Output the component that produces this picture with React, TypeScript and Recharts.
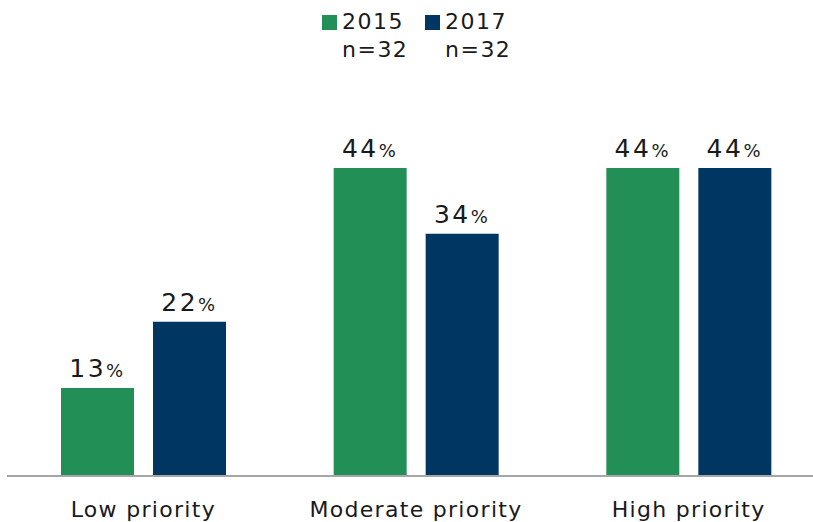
import { BarChart, Bar, XAxis, YAxis, LabelList } from "recharts";

const categories = ["Low priority", "Moderate priority", "High priority"];
// shares of n=32, labels show the rounded percent
const values2015 = [12.5, 43.75, 43.75];
const values2017 = [21.9, 34.4, 43.75];
const seriesNames = ["2015", "2017"];
const sampleSizes = ["n=32", "n=32"];

const GREEN = "#228F56";
const NAVY = "#003662";
const FONT = "'DejaVu Sans', Verdana, sans-serif";

const data = categories.map((name, i) => ({
  name,
  y2015: values2015[i],
  y2017: values2017[i],
}));

function PctLabel(props: any) {
  const { x, y, width, value } = props;
  return (
    <text
      x={Number(x) + Number(width) / 2}
      y={Number(y) - 11}
      textAnchor="middle"
      fill="#1a1a1a"
      fontFamily={FONT}
      letterSpacing={2.5}
    >
      <tspan fontSize={25}>{Math.round(Number(value))}</tspan>
      <tspan fontSize={18}>%</tspan>
    </text>
  );
}

function LegendBlock() {
  const items = [
    { color: GREEN, left: 322 },
    { color: NAVY, left: 425 },
  ];
  return (
    <>
      {items.map((it, i) => (
        <div
          key={seriesNames[i]}
          style={{ position: "absolute", left: it.left, top: 8, fontSize: 22, lineHeight: "28px", color: "#1a1a1a", letterSpacing: 1.5 }}
        >
          <div style={{ display: "flex", alignItems: "center" }}>
            <span style={{ display: "inline-block", width: 15, height: 15, background: it.color, marginRight: 5 }} />
            <span>{seriesNames[i]}</span>
          </div>
          <div style={{ paddingLeft: 20 }}>{sampleSizes[i]}</div>
        </div>
      ))}
    </>
  );
}

export default function App() {
  return (
    <div
      style={{
        position: "absolute",
        left: 0,
        top: 0,
        width: 813,
        height: 522,
        overflow: "hidden",
        background: "#fff",
        fontFamily: FONT,
      }}
    >
      <LegendBlock />
      <BarChart
        width={830}
        height={522}
        data={data}
        margin={{ top: 124, right: 5, bottom: 0, left: 7 }}
        barSize={73}
        barGap={19}
      >
        <XAxis
          dataKey="name"
          axisLine={{ stroke: "#a6a6a6", strokeWidth: 2 }}
          tickLine={false}
          tickMargin={19}
          height={46}
          interval={0}
          tick={{ fontSize: 22, fill: "#1a1a1a", fontFamily: FONT, letterSpacing: 1.3 }}
        />
        <YAxis hide domain={[0, 50]} />
        <Bar dataKey="y2015" fill={GREEN} isAnimationActive={false}>
          <LabelList dataKey="y2015" content={PctLabel} />
        </Bar>
        <Bar dataKey="y2017" fill={NAVY} isAnimationActive={false}>
          <LabelList dataKey="y2017" content={PctLabel} />
        </Bar>
      </BarChart>
    </div>
  );
}
